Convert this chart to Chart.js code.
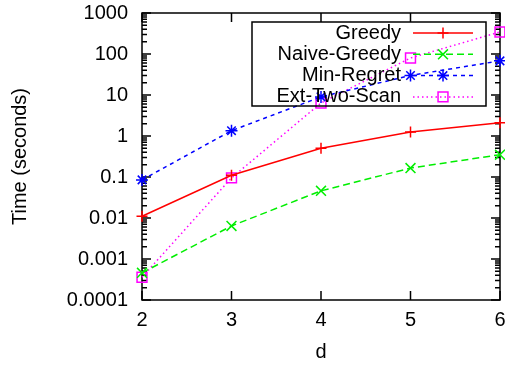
<!DOCTYPE html>
<html lang="en">
<head>
    <meta charset="UTF-8">
    <title>Time vs d</title>
    <script src="https://cdn.jsdelivr.net/npm/chart.js"></script>
    <style>
        body {
            margin: 0;
            background: #fff;
        }
        canvas {
            display: block;
        }
    </style>
</head>
<body>
    <canvas id="timeChart" width="505" height="366"></canvas>

    <script>
        // Data
        const dValues = [2, 3, 4, 5, 6];
        const greedy = [0.011, 0.11, 0.5, 1.25, 2.1];
        const naiveGreedy = [0.00046, 0.0064, 0.046, 0.165, 0.35];
        const minRegret = [0.085, 1.35, 9, 30, 68];
        const extTwoScan = [0.00036, 0.095, 6.4, 80, 345];

        const yTickValues = [0.0001, 0.001, 0.01, 0.1, 1, 10, 100, 1000];
        const yTickLabels = ['0.0001', '0.001', '0.01', '0.1', '1', '10', '100', '1000'];

        const FONT = 'Liberation Sans, Arial, Helvetica, sans-serif';

        function points(values) {
            return values.map((v, i) => ({ x: dValues[i], y: v }));
        }

        // Border box with inward ticks, gnuplot style
        const framePlugin = {
            id: 'frame',
            beforeDatasetsDraw(chart) {
                const { ctx, chartArea: a } = chart;
                const xs = chart.scales.x;
                const ys = chart.scales.y;
                ctx.save();
                ctx.strokeStyle = '#000';
                ctx.lineWidth = 1.5;
                ctx.strokeRect(a.left, a.top, a.right - a.left, a.bottom - a.top);
                ctx.beginPath();
                yTickValues.forEach(v => {
                    const y = ys.getPixelForValue(v);
                    ctx.moveTo(a.left, y); ctx.lineTo(a.left + 9, y);
                    ctx.moveTo(a.right, y); ctx.lineTo(a.right - 9, y);
                });
                for (let i = 0; i < yTickValues.length - 1; i++) {
                    for (let k = 2; k <= 9; k++) {
                        const y = ys.getPixelForValue(yTickValues[i] * k);
                        ctx.moveTo(a.left, y); ctx.lineTo(a.left + 5, y);
                        ctx.moveTo(a.right, y); ctx.lineTo(a.right - 5, y);
                    }
                }
                dValues.forEach(v => {
                    const x = xs.getPixelForValue(v);
                    ctx.moveTo(x, a.bottom); ctx.lineTo(x, a.bottom - 9);
                    ctx.moveTo(x, a.top); ctx.lineTo(x, a.top + 9);
                });
                ctx.stroke();
                ctx.restore();
            }
        };

        // Legend box in the top right, text right-aligned then the sample
        const keyPlugin = {
            id: 'key',
            afterDatasetsDraw(chart) {
                const ctx = chart.ctx;
                ctx.save();
                ctx.strokeStyle = '#000';
                ctx.lineWidth = 1.5;
                ctx.strokeRect(252, 22, 234, 84);
                chart.data.datasets.forEach((ds, i) => {
                    const y = 33 + i * 21.3;
                    ctx.fillStyle = '#000';
                    ctx.font = '20px ' + FONT;
                    ctx.textAlign = 'right';
                    ctx.textBaseline = 'middle';
                    ctx.fillText(ds.label, 401, y);

                    ctx.strokeStyle = ds.borderColor;
                    ctx.lineWidth = ds.borderWidth;
                    ctx.setLineDash(ds.borderDash || []);
                    ctx.beginPath();
                    ctx.moveTo(413, y);
                    ctx.lineTo(473, y);
                    ctx.stroke();
                    ctx.setLineDash([]);
                    ctx.fillStyle = 'rgba(0,0,0,0)';
                    Chart.helpers.drawPoint(ctx, {
                        pointStyle: ds.pointStyle,
                        radius: ds.pointRadius,
                        borderWidth: ds.pointBorderWidth,
                        rotation: 0
                    }, 443, y);
                });
                ctx.restore();
            }
        };

        const lineStyle = (label, data, color, dash, style, radius) => ({
            label: label,
            data: points(data),
            borderColor: color,
            backgroundColor: color,
            borderWidth: 1.5,
            borderDash: dash,
            pointStyle: style,
            pointRadius: radius,
            pointHoverRadius: radius,
            pointBorderColor: color,
            pointBackgroundColor: 'rgba(0,0,0,0)',
            pointBorderWidth: 1.5,
            tension: 0,
            clip: false
        });

        const ctx = document.getElementById('timeChart').getContext('2d');
        new Chart(ctx, {
            type: 'line',
            data: {
                datasets: [
                    lineStyle('Greedy', greedy, '#ff0000', [], 'cross', 5.5),
                    lineStyle('Naive-Greedy', naiveGreedy, '#00ee00', [7, 4], 'crossRot', 7),
                    lineStyle('Min-Regret', minRegret, '#0000ff', [4, 4], 'star', 6),
                    lineStyle('Ext-Two-Scan', extTwoScan, '#ff00ff', [1.5, 3], 'rect', 7)
                ]
            },
            options: {
                responsive: false,
                animation: false,
                devicePixelRatio: 1,
                layout: {
                    autoPadding: false,
                    padding: { top: 13, right: 5, left: 0, bottom: 0 }
                },
                plugins: {
                    legend: { display: false },
                    tooltip: { enabled: false }
                },
                scales: {
                    x: {
                        type: 'linear',
                        min: 2,
                        max: 6,
                        grid: { display: false, drawTicks: false },
                        border: { display: false },
                        ticks: {
                            stepSize: 1,
                            padding: 8,
                            color: '#000',
                            font: { family: FONT, size: 20 }
                        },
                        title: {
                            display: true,
                            text: 'd',
                            color: '#000',
                            font: { family: FONT, size: 20 },
                            padding: { top: 0, bottom: 2 }
                        },
                        afterFit(scale) {
                            scale.height = 66;
                            scale.paddingLeft = 0;
                            scale.paddingRight = 0;
                        }
                    },
                    y: {
                        type: 'logarithmic',
                        min: 0.0001,
                        max: 1000,
                        grid: { display: false, drawTicks: false },
                        border: { display: false },
                        afterBuildTicks(scale) {
                            scale.ticks = yTickValues.map(v => ({ value: v }));
                        },
                        ticks: {
                            padding: 14,
                            color: '#000',
                            font: { family: FONT, size: 20 },
                            callback: (value) => yTickLabels[yTickValues.indexOf(value)]
                        },
                        title: {
                            display: true,
                            text: 'Time (seconds)',
                            color: '#000',
                            font: { family: FONT, size: 20 },
                            padding: { top: 8, bottom: 0 }
                        },
                        afterFit(scale) {
                            scale.width = 142;
                            scale.paddingTop = 0;
                            scale.paddingBottom = 0;
                        }
                    }
                }
            },
            plugins: [framePlugin, keyPlugin]
        });
    </script>
</body>
</html>
